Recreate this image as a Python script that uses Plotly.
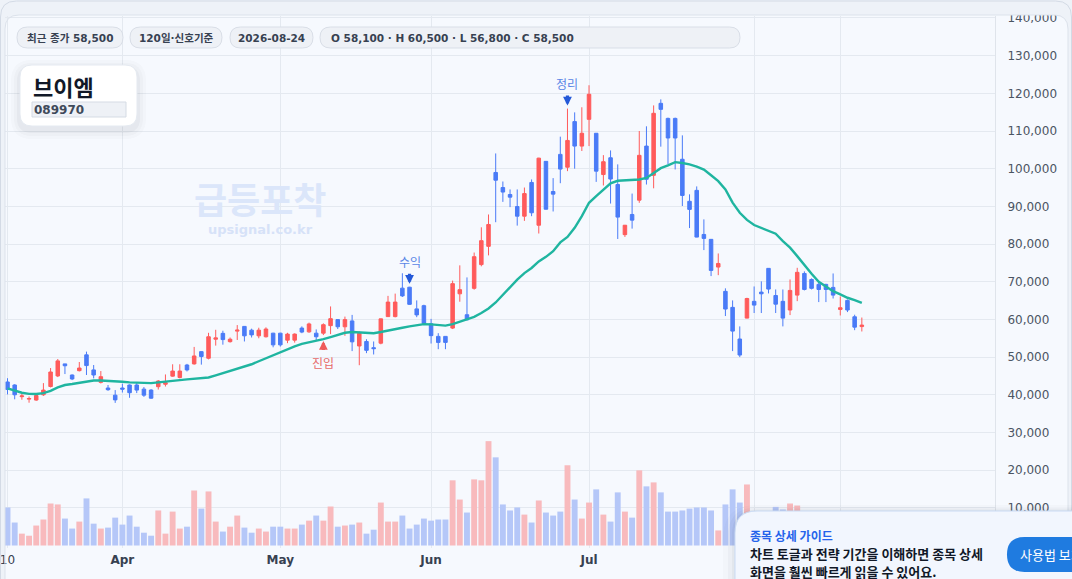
import plotly.graph_objects as go
import pandas as pd

# ---------------- data ----------------
dates = pd.bdate_range("2026-03-10", "2026-08-24").strftime("%Y-%m-%d").tolist()

opens = [43400, 42600, 39500, 38850, 38600, 40000, 42200, 45000, 48200, 45250,
         46400, 50600, 46600, 43300, 41800, 39900, 41800, 42600, 42600, 41500,
         41250, 42150, 42800, 44950, 44600, 47900, 48200, 51450, 49700, 54750,
         56300, 54100, 56900, 58150, 57150, 55650, 55400, 56350, 56350, 54500,
         54500, 57700, 56700, 56350, 56350, 58350, 59950, 58050, 59600, 52950,
         54150, 52500, 53700, 60750, 60750, 68300, 68550, 62800, 63650, 58850,
         55500, 55500, 57700, 66800, 61250, 68250, 74550, 79400, 99000, 95000,
         93150, 89950, 87400, 96350, 85000, 101950, 93950, 103800, 100400, 112500,
         106000, 113100, 109400, 98450, 102900, 95800, 82500, 87850, 91650, 106000,
         98250, 117350, 113350, 113350, 102500, 91350, 94250, 82550, 81250, 73900,
         67450, 63200, 54800, 60350, 64800, 67250, 73550, 66350, 64800, 62500,
         66450, 72200, 70600, 69300, 69300, 68500, 62650, 65050, 60700, 58100]
highs = [44400, 42800, 40300, 39550, 40200, 43100, 47100, 49500, 48200, 45400,
         48700, 51450, 47900, 46300, 42600, 41250, 42950, 42750, 43100, 42050,
         41500, 43900, 45400, 48100, 48100, 48200, 52700, 51550, 56450, 57250,
         57000, 55200, 58500, 58250, 57550, 57800, 57900, 56450, 56450, 56450,
         56300, 58150, 59150, 57350, 58950, 63450, 60000, 60750, 61200, 56800,
         54750, 54150, 60200, 66250, 66850, 72250, 68650, 65050, 63900, 60150,
         56350, 55550, 70300, 74350, 71150, 77750, 84450, 87850, 104050, 96600,
         94500, 94500, 95000, 97150, 102900, 102000, 97500, 108500, 115950, 114950,
         116300, 122150, 109450, 103600, 104850, 101150, 85050, 93400, 110000, 111250,
         116800, 118400, 113550, 113550, 108850, 93200, 95300, 86550, 81300, 77500,
         68250, 65050, 58150, 65750, 68750, 70100, 73600, 67950, 67950, 70600,
         73700, 72750, 70900, 69900, 69450, 72200, 66100, 65300, 61250, 60500]
lows = [40100, 38800, 38700, 37900, 38400, 39700, 41950, 44700, 45500, 43900,
        46200, 45250, 44350, 43000, 41050, 37850, 40600, 39200, 40450, 39450,
        38950, 41400, 42200, 44800, 44350, 46200, 48000, 48000, 49400, 53050,
        53300, 53850, 54550, 54150, 55200, 55000, 55200, 52600, 52800, 53700,
        53850, 56350, 56450, 54500, 55850, 56100, 57450, 55650, 51600, 47850,
        51050, 50700, 53400, 60650, 60550, 65950, 63900, 60600, 58500, 53600,
        52100, 52100, 57450, 64700, 59800, 67900, 74100, 77000, 85800, 91200,
        89800, 84900, 86150, 87400, 82800, 89200, 88650, 96150, 99350, 100000,
        104700, 106000, 96500, 95550, 90750, 81350, 81900, 84100, 90950, 95800,
        94800, 105850, 101150, 99800, 90100, 84250, 81800, 78400, 71500, 71750,
        60900, 51600, 50000, 60300, 61700, 61700, 66900, 61700, 58150, 61150,
        64850, 67700, 67950, 64600, 64600, 65550, 61050, 61950, 57150, 56800]
closes = [41400, 40000, 39700, 39000, 39800, 41250, 46050, 49000, 47700, 44200,
          47100, 47750, 45250, 44800, 41350, 38650, 41500, 40550, 41250, 39900,
          39100, 43650, 43200, 46300, 46300, 46600, 50300, 50150, 55400, 55100,
          54650, 54750, 57150, 55650, 55900, 57150, 57450, 53250, 53250, 56100,
          56100, 56650, 58800, 55400, 58600, 60200, 58050, 59950, 54050, 56300,
          51800, 52250, 60150, 64600, 64600, 66250, 64000, 61200, 58950, 55700,
          53900, 53900, 69500, 67900, 59900, 76650, 80900, 85200, 96950, 93800,
          92450, 87400, 93400, 88300, 102800, 89250, 93250, 99900, 107500, 106000,
          109400, 119750, 99350, 101850, 97250, 87150, 85000, 86350, 103550, 97200,
          114700, 115750, 108150, 108150, 92900, 89200, 81850, 81500, 73000, 74850,
          62750, 56900, 50550, 65550, 63800, 66800, 68050, 64050, 60350, 67700,
          72500, 67950, 68250, 67950, 67950, 66450, 63100, 62500, 57950, 58500]
ma20 = [41700, 41050, 40550, 40250, 40200, 40450, 41050, 41950, 42600, 42850,
        43200, 43650, 43800, 43800, 43750, 43550, 43450, 43300, 43200, 43100,
        43100, 43300, 43450, 43750, 43900, 44100, 44250, 44350, 44600, 45150,
        45750, 46300, 46850, 47500, 48100, 48900, 49700, 50600, 51350, 52150,
        52850, 53500, 53850, 54300, 54750, 55300, 55900, 56450, 56650, 56550,
        56450, 56350, 56650, 57100, 57450, 57800, 58150, 58500, 58750, 58700,
        58500, 58350, 58750, 59450, 60000, 60700, 61700, 62900, 64500, 66550,
        68500, 70550, 72300, 73650, 75400, 76600, 78100, 80450, 81900, 84300,
        87400, 90950, 92700, 94300, 96100, 96800, 96950, 97050, 97150, 97550,
        98900, 100150, 100900, 101750, 101500, 101150, 100550, 99750, 98250, 96700,
        94500, 91000, 88300, 86400, 85050, 84250, 83550, 82750, 80800, 79050,
        76800, 74350, 72100, 70000, 68650, 67500, 66650, 65750, 65150, 64400]
volume = [10100, 6100, 3150, 2600, 5300, 6900, 11150, 10900, 7150, 4500,
          6350, 12500, 5800, 4500, 4750, 7400, 5550, 7950, 5000, 3400,
          2600, 9300, 3150, 9000, 4500, 5000, 14600, 9800, 14350, 6350,
          3700, 5000, 7950, 4750, 3400, 4500, 3700, 5000, 5000, 4500,
          4500, 5550, 6600, 7950, 6600, 10350, 5000, 5300, 5550, 6100,
          3150, 4200, 11400, 6350, 6350, 7950, 4500, 5550, 7150, 6600,
          6900, 6900, 17300, 12200, 8750, 17550, 17300, 27700, 23400, 10900,
          9300, 10100, 8200, 6100, 11950, 8750, 7950, 9000, 21300, 12200,
          7150, 11400, 14900, 8200, 6350, 14100, 9000, 7400, 19950, 15700,
          16750, 14100, 9000, 9000, 9300, 9800, 10100, 10100, 9300, 4000,
          10900, 14900, 11400, 16200, 7000, 6300, 7400, 10250, 9550, 11150,
          10600, 7200, 6100, 5400, 6600, 7000, 4600, 5800, 6900, 5200]

tick_dates = ["2026-03-10", "2026-04-01", "2026-05-01", "2026-06-01",
              "2026-07-01", "2026-08-03", "2026-08-19"]
tick_text = ["10", "<b>Apr</b>", "<b>May</b>", "<b>Jun</b>", "<b>Jul</b>", "<b>Aug</b>", "19"]
price_ticks = [10000, 20000, 30000, 40000, 50000, 60000, 70000,
               80000, 90000, 100000, 110000, 120000, 130000, 140000]

signal_dates = ["2026-05-11", "2026-05-27", "2026-06-26"]
signal_labels = ["진입", "수익", "정리"]
signal_sides = ["below", "above", "above"]

stock_name = "브이엠"
stock_code = "089970"
window_label = "120일·신호기준"

# ---------------- style ----------------
RED = "#ff5b5b"
BLUE = "#4a7bf7"
VOL_RED = "#f8babd"
VOL_BLUE = "#b5c7f8"
TEAL = "#1fb5a0"
GRID = "#e4e9f0"
CARD_BG = "#f6f9fe"
OUTER_BG = "#eef2f8"
LATIN = "DejaVu Sans, Noto Sans CJK KR"
KR = "Noto Sans CJK KR, DejaVu Sans"

W_FIG, H_FIG = 1072, 579
M_L, M_R, M_T, M_B = 5, 77, 16, 31
PW = W_FIG - M_L - M_R
PH = H_FIG - M_T - M_B


def PX(X):
    return (X - M_L) / PW


def PY(Y):
    return (H_FIG - M_B - Y) / PH


def rr(x0, y0, x1, y1, r):
    pts = [
        ("M", (x0 + r, y0)), ("L", (x1 - r, y0)), ("Q", (x1, y0), (x1, y0 + r)),
        ("L", (x1, y1 - r)), ("Q", (x1, y1), (x1 - r, y1)),
        ("L", (x0 + r, y1)), ("Q", (x0, y1), (x0, y1 - r)),
        ("L", (x0, y0 + r)), ("Q", (x0, y0), (x0 + r, y0)),
    ]
    s = ""
    for item in pts:
        cmd = item[0]
        coords = " ".join(f"{PX(p[0]):.5f},{PY(p[1]):.5f}" for p in item[1:])
        s += f"{cmd} {coords} "
    return s + "Z"


def shape(path, fill, line=None, width=1, layer="above"):
    return dict(type="path", path=path, xref="paper", yref="paper",
                fillcolor=fill, layer=layer,
                line=dict(color=line or "rgba(0,0,0,0)", width=width if line else 0))


def txt(X, Y, text, size, color, family=LATIN, xanchor="left"):
    return dict(x=PX(X), y=PY(Y), xref="paper", yref="paper", text=text,
                showarrow=False, xanchor=xanchor, yanchor="middle",
                font=dict(size=size, color=color, family=family))


vol_colors = [VOL_RED if c >= o else VOL_BLUE for o, c in zip(opens, closes)]

fig = go.Figure()
fig.add_trace(go.Bar(x=dates, y=volume, marker=dict(color=vol_colors, line=dict(width=0)),
                     hoverinfo="skip", showlegend=False))
fig.add_trace(go.Candlestick(
    x=dates, open=opens, high=highs, low=lows, close=closes,
    increasing=dict(line=dict(color=RED, width=1), fillcolor=RED),
    decreasing=dict(line=dict(color=BLUE, width=1), fillcolor=BLUE),
    whiskerwidth=0, showlegend=False))
fig.add_trace(go.Scatter(x=dates, y=ma20, mode="lines", line=dict(color=TEAL, width=2.4),
                         hoverinfo="skip", showlegend=False))

shapes = []
shapes.append(shape(rr(5, 15, 1068, 660, 14), CARD_BG, layer="below"))
shapes.append(dict(type="rect", xref="paper", yref="paper", x0=PX(-10), x1=PX(1085),
                   y0=PY(15), y1=PY(-5), fillcolor=OUTER_BG, line=dict(width=0), layer="above"))
shapes.append(shape(rr(5, 15, 1068, 660, 14), "rgba(0,0,0,0)", "#dce2eb"))
shapes.append(shape(rr(0.5, 1, 1071.5, 700, 16), "rgba(0,0,0,0)", "#d3dae5"))

chips = [(17, 123), (130, 222), (230, 313), (320, 740)]
for x0, x1 in chips:
    shapes.append(shape(rr(x0, 27, x1, 48, 10.5), "#eef1f6", "#d9dee7"))

for k, a in [(9, 0.018), (6, 0.025), (3, 0.035)]:
    shapes.append(shape(rr(20 - k, 65 - k + 4, 137 + k, 126 + k + 4, 12 + k), f"rgba(30,41,59,{a})"))
shapes.append(shape(rr(20, 65, 137, 126, 12), "#ffffff", "#e5eaf1"))
shapes.append(dict(type="rect", xref="paper", yref="paper", x0=PX(32), x1=PX(126),
                   y0=PY(117), y1=PY(102), fillcolor="#eef1f6",
                   line=dict(color="#d5dbe4", width=1), layer="above"))

for k, a in [(12, 0.02), (7, 0.03), (3, 0.04)]:
    shapes.append(shape(rr(735 - k, 511 - k / 2, 1100, 640, 22 + k), f"rgba(30,41,59,{a})"))
shapes.append(shape(rr(735, 511, 1100, 640, 22), "#f2f6fe", "#c9daf4"))
shapes.append(shape(rr(1007, 537, 1130, 572, 17.5), "#1f7be0"))

annotations = []
last = len(dates) - 1
annotations.append(txt(70, 38, f"<b>최근 종가 {closes[last]:,}</b>", 10.5, "#374151", xanchor="center"))
annotations.append(txt(176, 38, f"<b>{window_label}</b>", 10.5, "#374151", xanchor="center"))
annotations.append(txt(271.5, 38, f"<b>{dates[last]}</b>", 10.5, "#374151", xanchor="center"))
annotations.append(txt(329, 38, f"<b>O {opens[last]:,} · H {highs[last]:,} · L {lows[last]:,} · C {closes[last]:,}</b>",
                       10.5, "#374151"))
annotations.append(txt(31, 86, f"<b>{stock_name}</b>", 22, "#111827", family=KR))
annotations.append(txt(32, 110, f"<b>{stock_code}</b>", 12, "#3f4a5a"))
annotations.append(txt(260, 198, "<b>급등포착</b>", 36, "#dbe6fa", family=KR, xanchor="center"))
annotations.append(txt(260, 229, "<b>upsignal.co.kr</b>", 13, "#d6e2f8", xanchor="center"))
annotations.append(txt(748, 535, "<b>종목 상세 가이드</b>", 12, "#2563eb", family=KR))
annotations.append(txt(748, 553, "<b>차트 토글과 전략 기간을 이해하면 종목 상세</b>", 13, "#111827", family=KR))
annotations.append(txt(748, 572, "<b>화면을 훨씬 빠르게 읽을 수 있어요.</b>", 13, "#111827", family=KR))
annotations.append(txt(1018, 554.5, "사용법 보기", 13, "#ffffff", family=KR))

for d, lab, side in zip(signal_dates, signal_labels, signal_sides):
    i = dates.index(d)
    if side == "above":
        annotations.append(dict(x=d, y=highs[i], xref="x", yref="y", text=lab,
                                showarrow=True, arrowhead=2, arrowsize=0.55, arrowwidth=3.2,
                                arrowcolor="#2459d8", ax=0, ay=-25, standoff=3, startstandoff=2,
                                font=dict(size=12, color="#5a86e6", family=KR)))
    else:
        annotations.append(dict(x=d, y=lows[i], xref="x", yref="y", text=lab,
                                showarrow=True, arrowhead=2, arrowsize=0.55, arrowwidth=3.2,
                                arrowcolor="#ef5a5a", ax=0, ay=27, standoff=6, startstandoff=2,
                                font=dict(size=12, color="#e66a6a", family=KR)))

fig.update_layout(
    width=W_FIG, height=H_FIG,
    margin=dict(l=M_L, r=M_R, t=M_T, b=M_B, pad=0, autoexpand=False),
    paper_bgcolor=OUTER_BG, plot_bgcolor="rgba(0,0,0,0)",
    bargap=0.18, boxgap=0.3,
    showlegend=False,
    shapes=shapes, annotations=annotations,
    xaxis=dict(type="category", range=[-0.35, 137.55], rangeslider=dict(visible=False),
               tickmode="array", tickvals=tick_dates, ticktext=tick_text, automargin=False,
               showgrid=True, gridcolor=GRID, gridwidth=1, ticks="", showline=False,
               zeroline=False, ticklabelstandoff=3,
               tickfont=dict(size=12, color="#374151", family=LATIN)),
    yaxis=dict(side="right", range=[-660, 140525], tickmode="array", tickvals=price_ticks,
               tickformat=",", showgrid=True, gridcolor=GRID, gridwidth=1, ticks="",
               zeroline=False, showline=True, linecolor="#dfe4eb", linewidth=1,
               ticklabelstandoff=9, automargin=False,
               tickfont=dict(size=12, color="#4b5563", family=LATIN)),
    hovermode=False,
)

fig.write_html("out.html", config={"displayModeBar": False},
               post_script="document.body.style.margin='0';document.body.style.overflow='hidden';")
